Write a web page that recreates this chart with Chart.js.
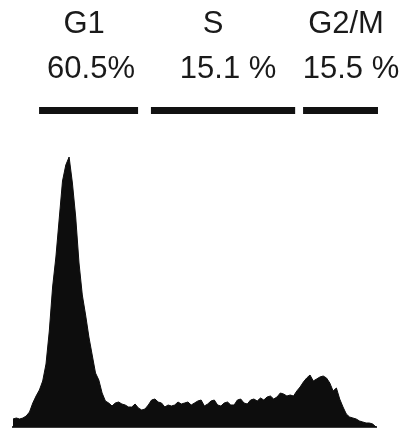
<!DOCTYPE html>
<html>
<head>
<meta charset="utf-8">
<script src="https://cdn.jsdelivr.net/npm/chart.js@4/dist/chart.umd.min.js"></script>
<style>
  html, body { margin: 0; padding: 0; background: #fff; }
  #wrap { width: 407px; height: 433px; }
</style>
</head>
<body>
<div id="wrap"><canvas id="cellCycleChart"></canvas></div>
<script>
// DNA content histogram (channel bins) and cell counts
const channels = [];
for (let i = 0; i <= 110; i++) channels.push(i);
const counts = [
    8, 9, 8, 9, 11, 15, 24, 31, 37, 46,
    63, 96, 140, 170, 208, 246, 262, 270, 244, 210,
    164, 132, 112, 90, 72, 54, 47, 34, 26, 24,
    21, 24, 25, 23, 22, 20, 20, 23, 19, 17,
    18, 22, 27, 28, 25, 24, 20, 22, 21, 22,
    25, 23, 24, 25, 22, 24, 26, 27, 21, 23,
    26, 27, 22, 21, 24, 25, 22, 22, 27, 28,
    24, 23, 27, 28, 26, 29, 27, 30, 31, 28,
    30, 34, 33, 31, 32, 31, 36, 40, 45, 49,
    52, 46, 48, 50, 51, 49, 44, 36, 39, 28,
    20, 13, 10, 9, 8, 6, 5, 4, 4, 3,
    0
];

// Gates (in channel units) and their labels
const gateNames = ['G1', 'S', 'G2/M'];
const gatePercents = ['60.5%', '15.1 %', '15.5 %'];
const gateStart = [7.9, 41.8, 87.9];
const gateEnd = [37.9, 85.5, 110.6];

// small per-label horizontal nudges (px) relative to the gate centre
const nameNudge = [-4.5, -10, 5.5];
const percentNudge = [2.5, 5, 10.5];

const gatePlugin = {
    id: 'gates',
    afterDraw(chart) {
        const ctx = chart.ctx;
        const x = chart.scales.x;
        ctx.save();
        for (let i = 0; i < gateNames.length; i++) {
            const x0 = x.getPixelForValue(gateStart[i]);
            const x1 = x.getPixelForValue(gateEnd[i]);
            ctx.fillStyle = '#111';
            ctx.fillRect(x0, 107, x1 - x0, 7);
            const mid = (x0 + x1) / 2;
            ctx.font = '31px "Liberation Sans", Arial, sans-serif';
            ctx.textAlign = 'center';
            ctx.textBaseline = 'alphabetic';
            ctx.fillStyle = '#1a1a1a';
            ctx.fillText(gateNames[i], mid + nameNudge[i], 33);
            ctx.fillText(gatePercents[i], mid + percentNudge[i], 78);
        }
        ctx.restore();
    }
};

const ctx = document.getElementById('cellCycleChart').getContext('2d');
new Chart(ctx, {
    type: 'line',
    data: {
        datasets: [{
            data: channels.map((c, i) => ({ x: c, y: counts[i] })),
            borderColor: '#0d0d0d',
            backgroundColor: '#0d0d0d',
            borderWidth: 1,
            pointRadius: 0,
            tension: 0,
            fill: 'origin'
        }]
    },
    options: {
        responsive: true,
        maintainAspectRatio: false,
        animation: false,
        layout: {
            padding: { left: 13, right: 31, top: 157, bottom: 4 }
        },
        plugins: {
            legend: { display: false },
            tooltip: { enabled: false }
        },
        scales: {
            x: {
                type: 'linear',
                min: 0,
                max: 110,
                grid: { display: false },
                ticks: { display: false },
                border: { color: '#3a3a3a', width: 2 },
                afterFit(scale) { scale.height = 2; }
            },
            y: {
                display: false,
                min: 0,
                max: 270
            }
        }
    },
    plugins: [gatePlugin]
});
</script>
</body>
</html>
